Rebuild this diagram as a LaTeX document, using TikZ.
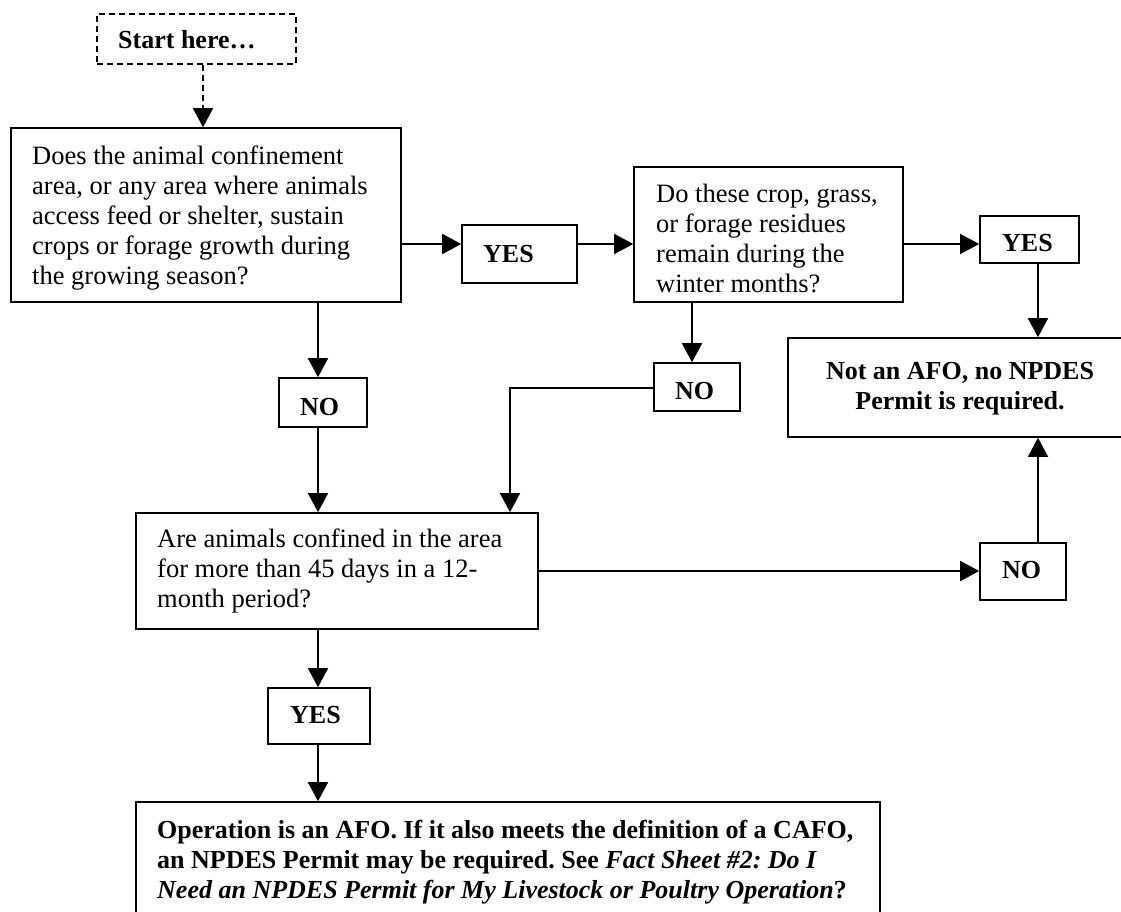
\documentclass[tikz,border=0pt]{standalone}
\usepackage{fontspec}
\setmainfont{Liberation Serif}
\usetikzlibrary{arrows.meta}
\frenchspacing
\newcommand\txtl[1]{\begin{tabular}[t]{@{}l@{}}#1\end{tabular}}
\newcommand\txtc[1]{\begin{tabular}[t]{@{}c@{}}#1\end{tabular}}
\begin{document}
\begin{tikzpicture}[x=1pt,y=-1pt,
  box/.style={draw,line width=1.6pt,rectangle,inner sep=0pt},
  txt/.style={inner sep=0pt,anchor=base west,font=\fontsize{26.5}{30}\selectfont},
  btxt/.style={inner sep=0pt,anchor=base west,font=\fontsize{26}{30}\selectfont\bfseries},
  ctxt/.style={inner sep=0pt,anchor=base,font=\fontsize{26}{30}\selectfont\bfseries},
  arr/.style={line width=1.6pt,-{Triangle[length=19pt,width=20pt]}}]
\useasboundingbox (0,0) rectangle (1121,911);
\clip (0,0) rectangle (1121,911);
% boxes
\node[box,dash pattern=on 6pt off 4pt,minimum width=199pt,minimum height=50pt] (start) at (196.5,39) {};
\node[box,minimum width=390pt,minimum height=174pt] (q1) at (206,215) {};
\node[box,minimum width=115pt,minimum height=58pt] (yes1) at (519.5,254) {};
\node[box,minimum width=269pt,minimum height=135pt] (q2) at (768.5,234.5) {};
\node[box,minimum width=99pt,minimum height=47pt] (yes2) at (1029.5,239.5) {};
\node[box,minimum width=344pt,minimum height=99pt] (notafo) at (960,387.5) {};
\node[box,minimum width=88pt,minimum height=49pt] (no1) at (323,402.5) {};
\node[box,minimum width=86pt,minimum height=48pt] (no2) at (697,387) {};
\node[box,minimum width=402pt,minimum height=116pt] (q3) at (337,571) {};
\node[box,minimum width=86pt,minimum height=57pt] (no3) at (1023,571.5) {};
\node[box,minimum width=102pt,minimum height=56pt] (yes3) at (319,716) {};
\node[box,minimum width=744pt,minimum height=138pt] (final) at (508,871) {};
% texts
\node[btxt] (tstart) at (118,48) {Start here…};
\node[txt] (tq1) at (32,164) {\txtl{Does the animal confinement\\area, or any area where animals\\access feed or shelter, sustain\\crops or forage growth during\\the growing season?}};
\node[btxt] (tyes1) at (483,262) {YES};
\node[txt] (tq2) at (656,202) {\txtl{Do these crop, grass,\\or forage residues\\remain during the\\winter months?}};
\node[btxt] (tyes2) at (1002,251) {YES};
\node[ctxt] (tnot) at (960,379) {\txtc{Not an AFO, no NPDES\\Permit is required.}};
\node[btxt] (tno1) at (300,415) {NO};
\node[btxt] (tno2) at (675,399) {NO};
\node[txt] (tq3) at (157,547) {\txtl{Are animals confined in the area\\for more than 45 days in a 12-\\month period?}};
\node[btxt] (tno3) at (1002,578) {NO};
\node[btxt] (tyes3) at (290,723) {YES};
\node[btxt] (tfinal) at (157,838) {\txtl{Operation is an AFO. If it also meets the definition of a CAFO,\\an NPDES Permit may be required. See \textit{Fact Sheet \#2: Do I}\\\textit{Need an NPDES Permit for My Livestock or Poultry Operation}?}};
% helper coordinates
\coordinate (cS) at (203,0);
\coordinate (c318) at (318,0);
\coordinate (c510) at (510,0);
\coordinate (c692) at (692,0);
\coordinate (c1038) at (1038,0);
\coordinate (r244) at (0,244);
\coordinate (r388) at (0,388);
\coordinate (r571) at (0,571);
% connectors
\draw[arr,dash pattern=on 6pt off 4pt] (cS |- start.south) -- (cS |- q1.north);
\draw[arr] (q1.east |- r244) -- (yes1.west |- r244);
\draw[arr] (yes1.east |- r244) -- (q2.west |- r244);
\draw[arr] (q2.east |- r244) -- (yes2.west |- r244);
\draw[arr] (c1038 |- yes2.south) -- (c1038 |- notafo.north);
\draw[arr] (c318 |- q1.south) -- (c318 |- no1.north);
\draw[arr] (c318 |- no1.south) -- (c318 |- q3.north);
\draw[arr] (c692 |- q2.south) -- (c692 |- no2.north);
\draw[arr] (no2.west |- r388) -| (c510 |- q3.north);
\draw[arr] (q3.east |- r571) -- (no3.west |- r571);
\draw[arr] (c1038 |- no3.north) -- (c1038 |- notafo.south);
\draw[arr] (c318 |- q3.south) -- (c318 |- yes3.north);
\draw[arr] (c318 |- yes3.south) -- (c318 |- final.north);
\end{tikzpicture}
\end{document}
